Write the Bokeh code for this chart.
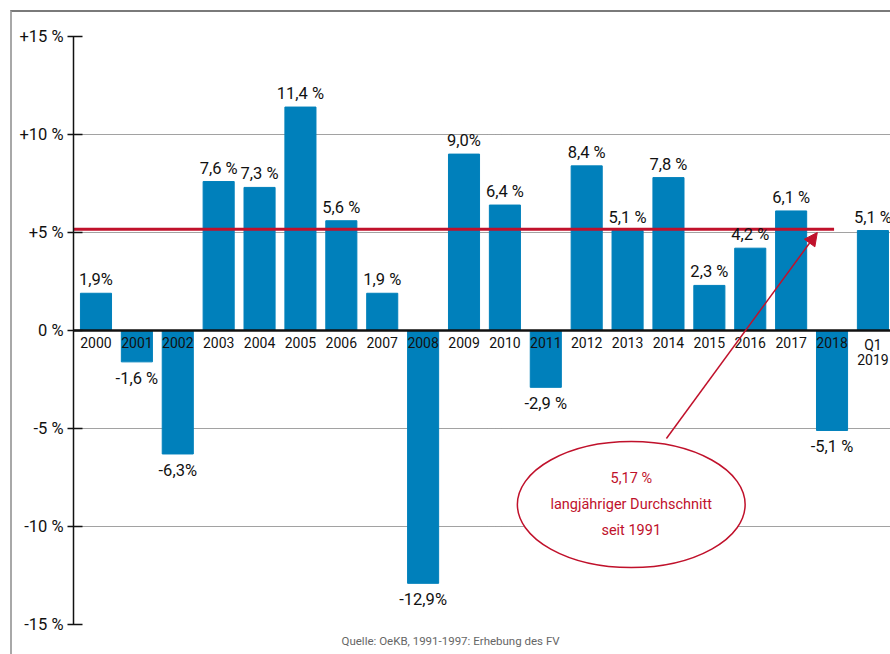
from bokeh.plotting import figure
from bokeh.models import FixedTicker, Span, Arrow, NormalHead, Title, ColumnDataSource, InlineStyleSheet
from bokeh.core.properties import value
from bokeh.embed import file_html
from bokeh.resources import INLINE

# ---- data ----
categories = ["2000", "2001", "2002", "2003", "2004", "2005", "2006", "2007", "2008", "2009",
              "2010", "2011", "2012", "2013", "2014", "2015", "2016", "2017", "2018", "Q1\n2019"]
changes = [1.9, -1.6, -6.3, 7.6, 7.3, 11.4, 5.6, 1.9, -12.9, 9.0,
           6.4, -2.9, 8.4, 5.1, 7.8, 2.3, 4.2, 6.1, -5.1, 5.1]
value_labels = ["1,9%", "-1,6 %", "-6,3%", "7,6 %", "7,3 %", "11,4 %", "5,6 %", "1,9 %", "-12,9%", "9,0%",
                "6,4 %", "-2,9 %", "8,4 %", "5,1 %", "7,8 %", "2,3 %", "4,2 %", "6,1 %", "-5,1 %", "5,1 %"]
y_ticks = [-15, -10, -5, 0, 5, 10, 15]
y_tick_labels = ["-15 %", "-10 %", "-5 %", "0 %", "+5 %", "+10 %", "+15 %"]
long_term_avg = 5.17
avg_text = "5,17 %\nlangjähriger Durchschnitt\nseit 1991"
source_note = "Quelle: OeKB, 1991-1997: Erhebung des FV"

FONT = "Roboto"
BLUE = "#0080bb"
RED = "#c0112b"

xs = list(range(len(categories)))

p = figure(width=890, height=654, x_range=(-0.55, 19.43), y_range=(-15, 15),
           x_axis_type=None, output_backend="svg", toolbar_location=None,
           min_border_left=73, min_border_right=0, min_border_top=36, min_border_bottom=30)
p.outline_line_color = None
p.background_fill_color = "white"
p.border_fill_color = "white"
p.stylesheets = [InlineStyleSheet(css=(
    ":host { position: relative; }"
    ":host::after { content: ''; position: absolute; left: 10px; top: 10px; right: 0; bottom: 0;"
    " border-left: 2px solid #a8a8a8; border-top: 2px solid #7a7a7a; pointer-events: none; }"))]

# y axis
p.yaxis.ticker = FixedTicker(ticks=y_ticks)
p.yaxis.major_label_overrides = {t: l for t, l in zip(y_ticks, y_tick_labels)}
p.yaxis.minor_tick_line_color = None
p.yaxis.major_tick_in = 9
p.yaxis.major_tick_out = 6
p.yaxis.major_label_standoff = 4
p.yaxis.axis_line_width = 1.5
p.yaxis.major_tick_line_width = 1.5
p.yaxis.axis_line_color = "#111"
p.yaxis.major_tick_line_color = "#111"
p.yaxis.major_label_text_font = FONT
p.yaxis.major_label_text_font_size = "16.5px"
p.yaxis.major_label_text_color = "#111"

p.xgrid.grid_line_color = None
p.ygrid.grid_line_color = "#444"
p.ygrid.grid_line_dash = "1 1"
p.ygrid.grid_line_width = 1

src = ColumnDataSource(dict(x=xs, v=changes, lab=value_labels, cat=categories))
p.vbar(x="x", top="v", bottom=0, width=0.76, source=src, color=BLUE)

# long-term average line
avg_end = categories.index("2018") + 0.05
p.segment(x0=[-0.55], y0=[long_term_avg], x1=[avg_end], y1=[long_term_avg],
          line_color=RED, line_width=3)

p.add_layout(Span(location=0, dimension="width", line_color="#111", line_width=2.5))

pos = ColumnDataSource(dict(x=[x for x, v in zip(xs, changes) if v >= 0],
                            v=[v for v in changes if v >= 0],
                            lab=[l for l, v in zip(value_labels, changes) if v >= 0]))
neg = ColumnDataSource(dict(x=[x for x, v in zip(xs, changes) if v < 0],
                            v=[v for v in changes if v < 0],
                            lab=[l for l, v in zip(value_labels, changes) if v < 0]))
p.text(x="x", y="v", text="lab", source=pos, text_align="center", text_baseline="bottom",
       y_offset=-4, text_font=value(FONT), text_font_size="16.5px", text_color="#111")
p.text(x="x", y="v", text="lab", source=neg, text_align="center", text_baseline="top",
       y_offset=7, text_font=value(FONT), text_font_size="16.5px", text_color="#111")

# category labels at zero line
p.text(x="x", y=0, text="cat", source=src, text_align="center", text_baseline="top",
       y_offset=6, text_font=value(FONT), text_font_size="14px", text_color="#111",
       text_line_height=0.95)

# annotation ellipse
p.ellipse(x=[13.09], y=[-8.88], width=5.57, height=6.43, fill_color="white",
          line_color=RED, line_width=1.5)
p.text(x=[13.09], y=[-8.88], text=[avg_text], text_align="center", text_baseline="middle",
       text_font=value(FONT), text_font_size="14.5px", text_color=RED, text_line_height=1.55)
p.add_layout(Arrow(end=NormalHead(size=13, fill_color=RED, line_color=RED),
                   x_start=13.95, y_start=-5.51, x_end=17.64, y_end=5.0,
                   line_color=RED, line_width=1.5))

p.add_layout(Title(text=source_note, align="left", offset=268, standoff=14, text_font=FONT,
                   text_font_size="11.5px", text_font_style="normal", text_color="#666"), "below")

open("out.html", "w").write(file_html(p, INLINE))
